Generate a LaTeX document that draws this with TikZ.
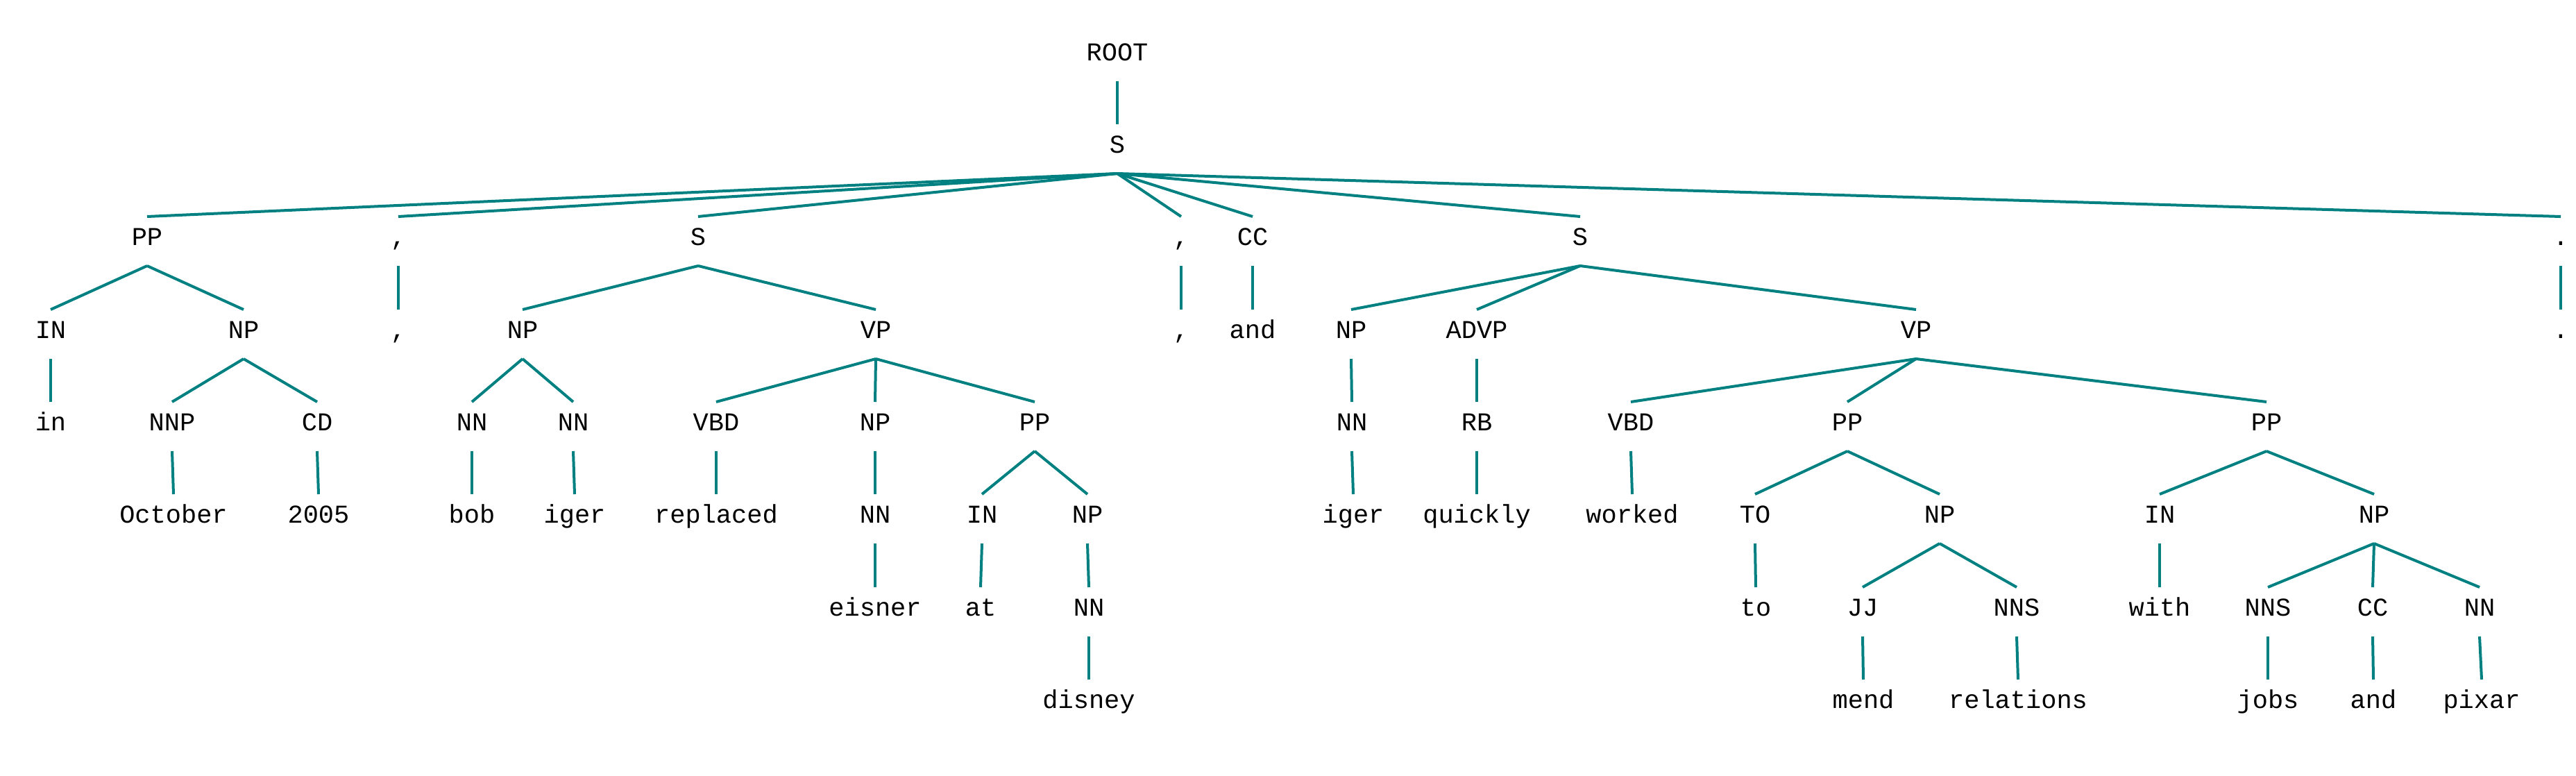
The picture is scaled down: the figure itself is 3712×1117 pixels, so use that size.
\documentclass[tikz,border=0pt]{standalone}
\usepackage{fontspec}
\newfontfamily\treefont{Liberation Mono}
\definecolor{treeteal}{RGB}{0,128,128}
\newcommand\treeedge[2]{\draw[edge] ([yshift=-30pt]#1.base) -- ([yshift=41pt]#2.base);}
\begin{document}
\begin{tikzpicture}[x=1pt,y=-1pt,
  lbl/.style={anchor=base,inner sep=0pt,outer sep=0pt,font=\treefont\fontsize{37}{40}\selectfont,text=black},
  edge/.style={draw=treeteal,line width=4pt,line cap=butt}]
\useasboundingbox (0,0) rectangle (3712,1117);
% level 0-1
\node[lbl] (root) at (1610,87) {ROOT};
\node[lbl] (s) at (1610,220) {S};
% level 2
\node[lbl] (pp1) at (212,353) {PP};
\node[lbl] (c1) at (574,353) {,};
\node[lbl] (s2) at (1006,353) {S};
\node[lbl] (c2) at (1702,353) {,};
\node[lbl] (cc1) at (1805,353) {CC};
\node[lbl] (s3) at (2277,353) {S};
\node[lbl] (dot1) at (3690,353) {.};
% level 3
\node[lbl] (in1) at (73,487) {IN};
\node[lbl] (np1) at (351,487) {NP};
\node[lbl] (c1b) at (574,487) {,};
\node[lbl] (np2) at (753,487) {NP};
\node[lbl] (vp1) at (1262,487) {VP};
\node[lbl] (c2b) at (1702,487) {,};
\node[lbl] (and1) at (1805,487) {and};
\node[lbl] (np3) at (1947,487) {NP};
\node[lbl] (advp) at (2128,487) {ADVP};
\node[lbl] (vp2) at (2761,487) {VP};
\node[lbl] (dot2) at (3690,487) {.};
% level 4
\node[lbl] (win) at (73,620) {in};
\node[lbl] (nnp) at (248,620) {NNP};
\node[lbl] (cd) at (457,620) {CD};
\node[lbl] (nn1) at (680,620) {NN};
\node[lbl] (nn2) at (826,620) {NN};
\node[lbl] (vbd1) at (1032,620) {VBD};
\node[lbl] (np4) at (1261,620) {NP};
\node[lbl] (pp2) at (1491,620) {PP};
\node[lbl] (nn3) at (1948,620) {NN};
\node[lbl] (rb) at (2128,620) {RB};
\node[lbl] (vbd2) at (2350,620) {VBD};
\node[lbl] (pp3) at (2662,620) {PP};
\node[lbl] (pp4) at (3266,620) {PP};
% level 5
\node[lbl] (october) at (250,753) {October};
\node[lbl] (y2005) at (459,753) {2005};
\node[lbl] (bob) at (680,753) {bob};
\node[lbl] (iger1) at (828,753) {iger};
\node[lbl] (replaced) at (1032,753) {replaced};
\node[lbl] (nn4) at (1261,753) {NN};
\node[lbl] (in2) at (1415,753) {IN};
\node[lbl] (np5) at (1567,753) {NP};
\node[lbl] (iger2) at (1950,753) {iger};
\node[lbl] (quickly) at (2128,753) {quickly};
\node[lbl] (worked) at (2352,753) {worked};
\node[lbl] (to) at (2529,753) {TO};
\node[lbl] (np6) at (2795,753) {NP};
\node[lbl] (in3) at (3112,753) {IN};
\node[lbl] (np7) at (3421,753) {NP};
% level 6
\node[lbl] (eisner) at (1261,887) {eisner};
\node[lbl] (at) at (1413,887) {at};
\node[lbl] (nn5) at (1569,887) {NN};
\node[lbl] (wto) at (2530,887) {to};
\node[lbl] (jj) at (2684,887) {JJ};
\node[lbl] (nns1) at (2906,887) {NNS};
\node[lbl] (with) at (3112,887) {with};
\node[lbl] (nns2) at (3268,887) {NNS};
\node[lbl] (cc2) at (3419,887) {CC};
\node[lbl] (nn6) at (3573,887) {NN};
% level 7
\node[lbl] (disney) at (1569,1020) {disney};
\node[lbl] (mend) at (2685,1020) {mend};
\node[lbl] (relations) at (2908,1020) {relations};
\node[lbl] (jobs) at (3268,1020) {jobs};
\node[lbl] (and2) at (3420,1020) {and};
\node[lbl] (pixar) at (3576,1020) {pixar};
% edges
\treeedge{root}{s}
\treeedge{s}{pp1}\treeedge{s}{c1}\treeedge{s}{s2}\treeedge{s}{c2}
\treeedge{s}{cc1}\treeedge{s}{s3}\treeedge{s}{dot1}
\treeedge{pp1}{in1}\treeedge{pp1}{np1}
\treeedge{c1}{c1b}
\treeedge{s2}{np2}\treeedge{s2}{vp1}
\treeedge{c2}{c2b}
\treeedge{cc1}{and1}
\treeedge{s3}{np3}\treeedge{s3}{advp}\treeedge{s3}{vp2}
\treeedge{dot1}{dot2}
\treeedge{in1}{win}
\treeedge{np1}{nnp}\treeedge{np1}{cd}
\treeedge{np2}{nn1}\treeedge{np2}{nn2}
\treeedge{vp1}{vbd1}\treeedge{vp1}{np4}\treeedge{vp1}{pp2}
\treeedge{np3}{nn3}
\treeedge{advp}{rb}
\treeedge{vp2}{vbd2}\treeedge{vp2}{pp3}\treeedge{vp2}{pp4}
\treeedge{nnp}{october}\treeedge{cd}{y2005}
\treeedge{nn1}{bob}\treeedge{nn2}{iger1}
\treeedge{vbd1}{replaced}
\treeedge{np4}{nn4}
\treeedge{pp2}{in2}\treeedge{pp2}{np5}
\treeedge{nn3}{iger2}
\treeedge{rb}{quickly}
\treeedge{vbd2}{worked}
\treeedge{pp3}{to}\treeedge{pp3}{np6}
\treeedge{pp4}{in3}\treeedge{pp4}{np7}
\treeedge{nn4}{eisner}
\treeedge{in2}{at}
\treeedge{np5}{nn5}
\treeedge{to}{wto}
\treeedge{np6}{jj}\treeedge{np6}{nns1}
\treeedge{in3}{with}
\treeedge{np7}{nns2}\treeedge{np7}{cc2}\treeedge{np7}{nn6}
\treeedge{nn5}{disney}
\treeedge{jj}{mend}\treeedge{nns1}{relations}
\treeedge{nns2}{jobs}\treeedge{cc2}{and2}\treeedge{nn6}{pixar}
\end{tikzpicture}
\end{document}
